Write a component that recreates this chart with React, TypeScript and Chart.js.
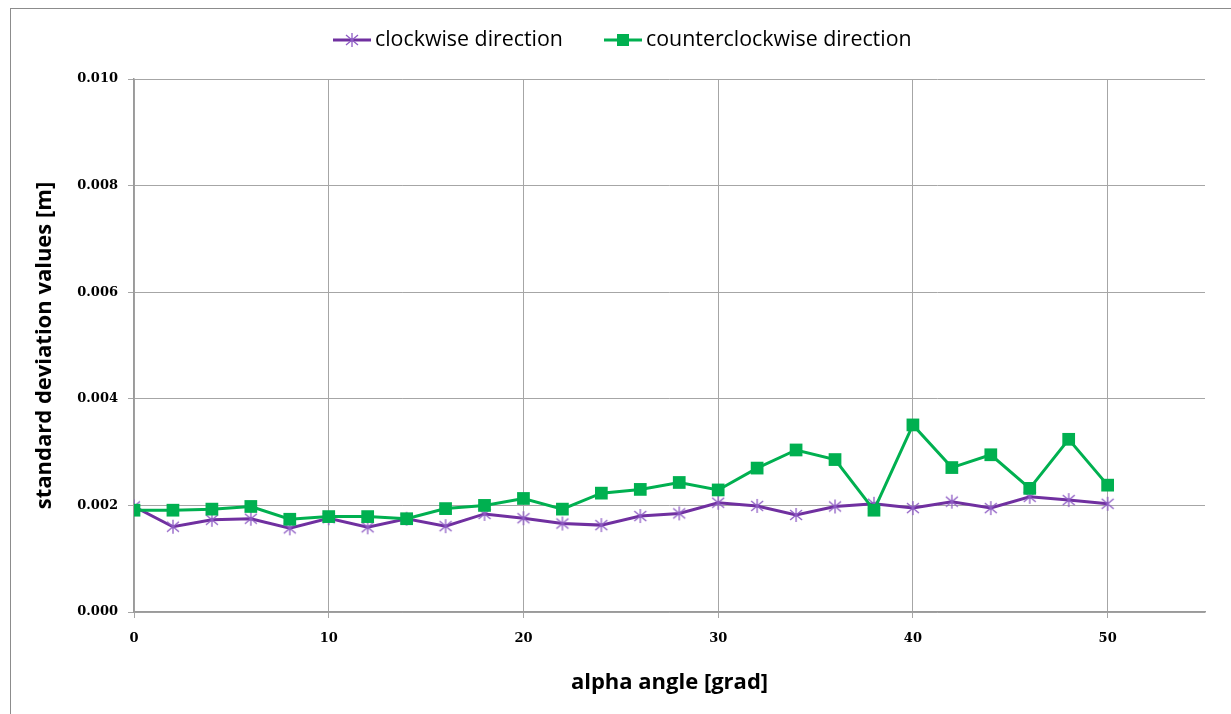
import React, { useEffect, useRef } from "react";
import { Chart, registerables } from "chart.js";

Chart.register(...registerables);

const angles = [0, 2, 4, 6, 8, 10, 12, 14, 16, 18, 20, 22, 24, 26, 28, 30, 32, 34, 36, 38, 40, 42, 44, 46, 48, 50];
const clockwise = [0.00198, 0.0016, 0.00173, 0.00175, 0.00157, 0.00176, 0.00159, 0.00175, 0.00161, 0.00184, 0.00176, 0.00166, 0.00163, 0.0018, 0.00185, 0.00205, 0.00199, 0.00182, 0.00198, 0.00203, 0.00195, 0.00207, 0.00195, 0.00216, 0.0021, 0.00203];
const counterclockwise = [0.00191, 0.00191, 0.00193, 0.00198, 0.00174, 0.00179, 0.00179, 0.00175, 0.00194, 0.002, 0.00213, 0.00193, 0.00223, 0.0023, 0.00243, 0.00229, 0.0027, 0.00304, 0.00286, 0.00191, 0.00351, 0.00271, 0.00295, 0.00232, 0.00324, 0.00238];
const seriesNames = ["clockwise direction", "counterclockwise direction"];
const xTitle = "alpha angle [grad]";
const yTitle = "standard deviation values [m]";

const PURPLE = "#7030A0";
const STAR = "#8e5cc4";
const GREEN = "#00B050";

function makeStar(): HTMLCanvasElement {
  const c = document.createElement("canvas");
  c.width = 16;
  c.height = 16;
  const g = c.getContext("2d")!;
  g.strokeStyle = STAR;
  g.lineWidth = 1.3;
  g.beginPath();
  g.moveTo(8, 1);
  g.lineTo(8, 15);
  g.moveTo(2, 3);
  g.lineTo(14, 13);
  g.moveTo(2, 13);
  g.lineTo(14, 3);
  g.stroke();
  return c;
}

export default function App() {
  const ref = useRef<HTMLCanvasElement>(null);
  useEffect(() => {
    const star = makeStar();
    const legendPlugin = {
      id: "customLegend",
      afterDraw(chart: any) {
        const ctx = chart.ctx as CanvasRenderingContext2D;
        ctx.save();
        ctx.font = "20px 'Open Sans'";
        const w0 = ctx.measureText(seriesNames[0]).width;
        const size = Math.max(12, Math.min(22, 20 * 188 / w0));
        ctx.font = `${size}px 'Open Sans'`;
        ctx.fillStyle = "#000";
        ctx.textBaseline = "middle";
        const y = 31;
        const starts = [322, 593];
        chart.data.datasets.forEach((ds: any, i: number) => {
          const x = starts[i];
          ctx.strokeStyle = ds.borderColor;
          ctx.lineWidth = 3;
          ctx.beginPath();
          ctx.moveTo(x, y);
          ctx.lineTo(x + 38, y);
          ctx.stroke();
          if (i === 0) {
            ctx.drawImage(star, x + 19 - 8, y - 8);
          } else {
            ctx.fillStyle = GREEN;
            ctx.fillRect(x + 19 - 6, y - 6, 12, 12);
            ctx.fillStyle = "#000";
          }
          ctx.fillText(ds.label, x + 42, y);
        });
        ctx.restore();
      },
    };
    const tickFont = { family: "'DejaVu Serif'", size: 13, weight: "bold" as const };
    const titleFont = { family: "'Open Sans'", size: 22, weight: "bold" as const };
    const chart = new Chart(ref.current!, {
      type: "line",
      data: {
        datasets: [
          {
            label: seriesNames[0],
            data: angles.map((a, i) => ({ x: a, y: clockwise[i] })),
            borderColor: PURPLE,
            backgroundColor: PURPLE,
            borderWidth: 3,
            pointStyle: star as any,
            pointRadius: 8,
            order: 1,
          },
          {
            label: seriesNames[1],
            data: angles.map((a, i) => ({ x: a, y: counterclockwise[i] })),
            borderColor: GREEN,
            backgroundColor: GREEN,
            borderWidth: 3,
            pointStyle: "rect",
            pointRadius: 9,
            pointBorderWidth: 0,
            order: 0,
          },
        ],
      },
      options: {
        animation: false,
        responsive: false,
        devicePixelRatio: 1,
        layout: { padding: { top: 70, right: 46, left: 0, bottom: 0 } },
        plugins: { legend: { display: false }, tooltip: { enabled: false } },
        scales: {
          x: {
            type: "linear",
            min: 0,
            max: 55,
            ticks: { stepSize: 10, includeBounds: false, font: tickFont, color: "#000", padding: 13, maxRotation: 0 },
            grid: { color: "#a6a6a6", lineWidth: 1, tickLength: 6 },
            border: { color: "#9a9a9a", width: 1.5 },
            title: { display: true, text: xTitle, font: titleFont, color: "#000", padding: { top: 0, bottom: 18 } },
            afterFit: (s: any) => { s.height = 102; },
          },
          y: {
            min: 0,
            max: 0.01,
            ticks: { stepSize: 0.002, font: tickFont, color: "#000", padding: 10, callback: (v: any) => Number(v).toFixed(3) },
            grid: { color: "#a6a6a6", lineWidth: 1, tickLength: 6 },
            border: { color: "#9a9a9a", width: 1.5 },
            title: { display: true, text: yTitle, font: titleFont, color: "#000", padding: { top: 21, bottom: 0 } },
            afterFit: (s: any) => { s.width = 123; },
          },
        },
      },
      plugins: [legendPlugin],
    });
    return () => chart.destroy();
  }, []);
  return (
    <div style={{ position: "fixed", left: 0, top: 0, width: 1231, height: 714, overflow: "hidden", background: "#fff" }}>
      <div style={{ position: "absolute", left: 10, top: 8, width: 1240, height: 720, border: "1px solid #8c8c8c", background: "#fff" }}>
        <canvas ref={ref} width={1240} height={705} style={{ display: "block" }} />
      </div>
    </div>
  );
}
